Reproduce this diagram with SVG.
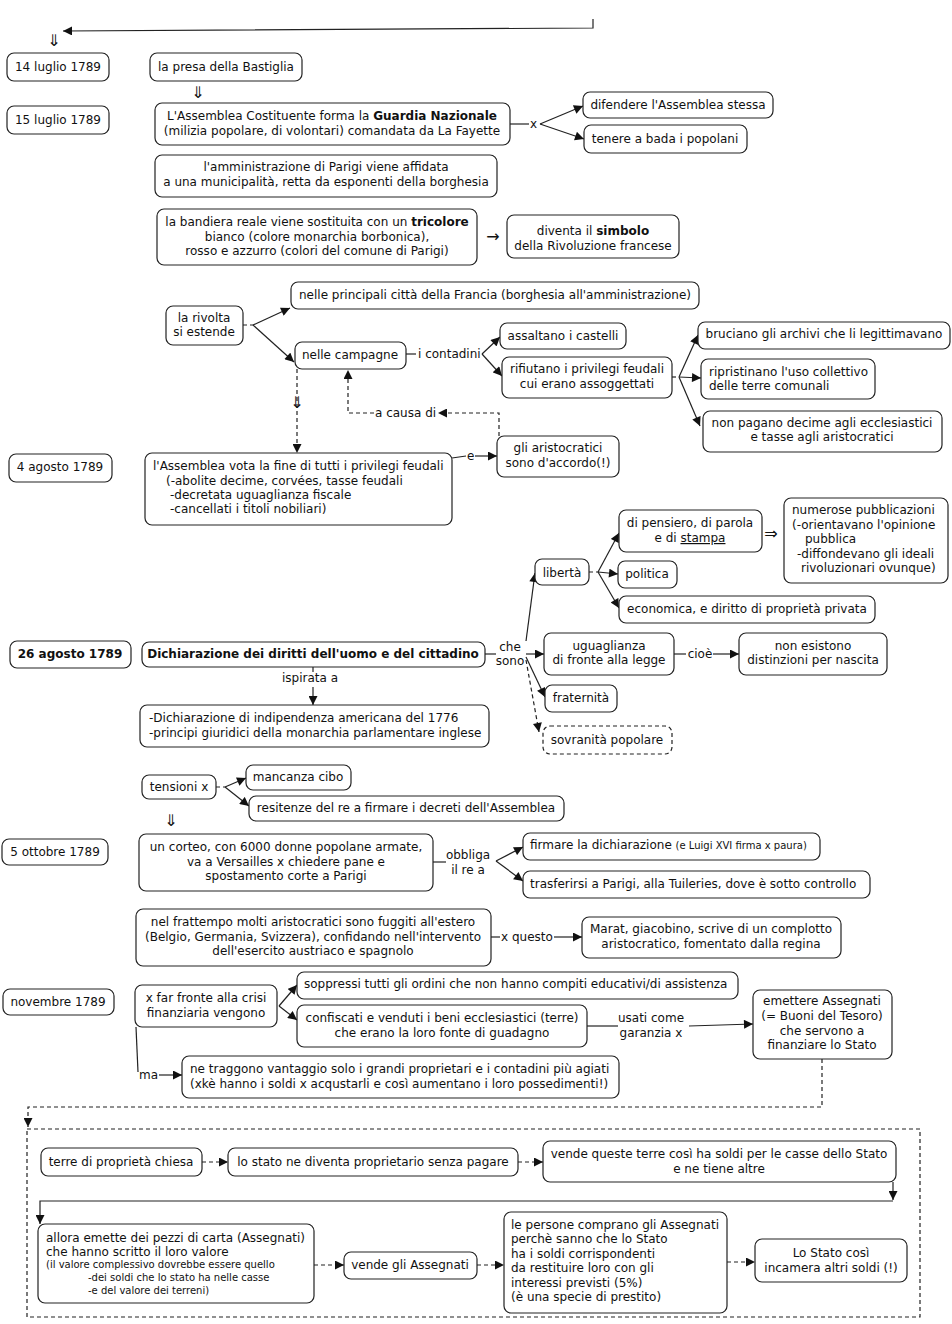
<svg xmlns="http://www.w3.org/2000/svg" width="952" height="1324" viewBox="0 0 952 1324">
<defs>
<marker id="ah" viewBox="0 0 10 10" refX="10" refY="5" markerWidth="10" markerHeight="9" markerUnits="userSpaceOnUse" orient="auto"><path d="M0,0 L10,5 L0,10 z" fill="#111"/></marker>
</defs>
<style>
rect{fill:#fff;stroke:#222;stroke-width:1.2}
rect.d{stroke-dasharray:4 3}
rect.frame{fill:none;stroke-dasharray:4 3}
text{font-family:"DejaVu Sans",Verdana,sans-serif;font-size:12px;fill:#111}
.m{text-anchor:middle}
.b{font-weight:bold}
.s{font-size:10px}
.g{font-size:16px;font-family:"DejaVu Sans",sans-serif;fill:#111}
#edges path{fill:none;stroke:#222;stroke-width:1.2}
#edges path.a{marker-end:url(#ah)}
#edges path.d{stroke-dasharray:4 3}
</style>
<rect class="frame" x="27" y="1129" width="893" height="188"/>
<g id="edges">
<path class="a" d="M593,19 L593,28 L63,31"/>
<text class="m g" x="54" y="46">⇓</text>
<text class="m g" x="198" y="98">⇓</text>
<text class="m g" x="171" y="826">⇓</text>
<path d="M510,124 H529"/>
<text x="530" y="128">x</text>
<path class="a" d="M540,124 L583,106"/>
<path class="a" d="M540,124 L584,139"/>
<text class="m g" x="493" y="242">→</text>
<path class="d" d="M243,325 H253"/>
<path class="a" d="M253,325 L290,308"/>
<path class="a" d="M253,325 L294,362"/>
<path d="M406,354 H416"/>
<text x="418" y="358">i contadini</text>
<path class="a" d="M482,354 L500,337"/>
<path class="a" d="M482,354 L502,376"/>
<path class="d" d="M672,377 H679"/>
<path class="a" d="M679,377 L698,335"/>
<path class="a" d="M679,377 L701,378"/>
<path class="a" d="M679,377 L700,426"/>
<path class="a d" d="M297,369 V453"/>
<text class="m g" x="297" y="408">⇓</text>
<path class="a d" d="M499,436 V413 H438"/>
<text x="375" y="417">a causa di</text>
<path class="a d" d="M374,413 H348 V370"/>
<path d="M452,458 L466,456"/>
<text x="467" y="460">e</text>
<path class="a" d="M475,456 H497"/>
<path class="d" d="M589,572 H598"/>
<path class="a" d="M598,572 L619,533"/>
<path class="a" d="M598,572 L618,574"/>
<path class="a" d="M598,572 L619,608"/>
<text class="m g" x="771" y="539">⇒</text>
<path d="M485,654 H496"/>
<text class="m" x="510" y="651">che</text>
<text class="m" x="510" y="665">sono</text>
<path class="a" d="M526,641 L535,573"/>
<path class="a" d="M526,654 H544"/>
<path class="a" d="M526,657 L545,697"/>
<path class="a d" d="M526,660 L539,732"/>
<path d="M674,654 H686"/>
<text class="m" x="700" y="658">cioè</text>
<path class="a" d="M713,654 H739"/>
<path d="M313,667 V672"/>
<text class="m" x="310" y="682">ispirata a</text>
<path class="a" d="M313,687 V705"/>
<path class="d" d="M216,787 H225"/>
<path class="a" d="M225,787 L246,778"/>
<path class="a" d="M225,787 L249,806"/>
<path d="M433,862 H446"/>
<text class="m" x="468" y="859">obbliga</text>
<text class="m" x="468" y="874">il re a</text>
<path class="a" d="M496,861 L523,847"/>
<path class="a" d="M496,861 L523,881"/>
<path d="M491,937 H500"/>
<text x="501" y="941">x questo</text>
<path class="a" d="M554,937 H582"/>
<path class="a" d="M279,1006 L297,985"/>
<path class="a" d="M279,1006 L297,1020"/>
<path d="M587,1026 H618"/>
<text class="m" x="651" y="1022">usati come</text>
<text class="m" x="651" y="1037">garanzia x</text>
<path class="a" d="M689,1026 L753,1024"/>
<path d="M136,1027 L138,1072"/>
<text x="139" y="1079">ma</text>
<path class="a" d="M159,1075 H182"/>
<path class="a d" d="M822,1059 V1107 H28 V1127"/>
<path class="a d" d="M202,1162 H228"/>
<path class="a d" d="M518,1162 H543"/>
<path class="a" d="M893,1182 V1200"/>
<path class="a" d="M893,1201 H40 V1224"/>
<path class="a d" d="M314,1265 H344"/>
<path class="a d" d="M477,1265 H504"/>
<path class="a d" d="M727,1262 H755"/>
</g>
<g id="n1"><rect x="7" y="53" width="102" height="28" rx="7"/><text class="m" x="58" y="71">14 luglio 1789</text></g>
<g id="n2"><rect x="150" y="53" width="152" height="28" rx="7"/><text class="m" x="226" y="71">la presa della Bastiglia</text></g>
<g id="n3"><rect x="7" y="106" width="102" height="28" rx="7"/><text class="m" x="58" y="124">15 luglio 1789</text></g>
<g id="n4"><rect x="155" y="103" width="355" height="42" rx="7"/><text class="m" x="332" y="120">L'Assemblea Costituente forma la <tspan class="b">Guardia Nazionale</tspan></text><text class="m" x="332" y="135">(milizia popolare, di volontari) comandata da La Fayette</text></g>
<g id="n5"><rect x="155" y="155" width="342" height="42" rx="7"/><text class="m" x="326" y="171">l'amministrazione di Parigi viene affidata</text><text class="m" x="326" y="186">a una municipalità, retta da esponenti della borghesia</text></g>
<g id="n6"><rect x="157" y="209" width="320" height="56" rx="7"/><text class="m" x="317" y="226">la bandiera reale viene sostituita con un <tspan class="b">tricolore</tspan></text><text class="m" x="317" y="241">bianco (colore monarchia borbonica),</text><text class="m" x="317" y="255">rosso e azzurro (colori del comune di Parigi)</text></g>
<g id="n7"><rect x="507" y="215" width="172" height="43" rx="7"/><text class="m" x="593" y="235">diventa il <tspan class="b">simbolo</tspan></text><text class="m" x="593" y="250">della Rivoluzione francese</text></g>
<g id="n8"><rect x="583" y="92" width="190" height="26" rx="7"/><text class="m" x="678" y="109">difendere l'Assemblea stessa</text></g>
<g id="n9"><rect x="584" y="125" width="163" height="28" rx="7"/><text class="m" x="665" y="143">tenere a bada i popolani</text></g>
<g id="n10"><rect x="291" y="282" width="408" height="27" rx="7"/><text class="m" x="495" y="299">nelle principali città della Francia (borghesia all'amministrazione)</text></g>
<g id="n11"><rect x="166" y="306" width="77" height="39" rx="7"/><text class="m" x="204" y="322">la rivolta</text><text class="m" x="204" y="336">si estende</text></g>
<g id="n12"><rect x="295" y="342" width="111" height="27" rx="7"/><text class="m" x="350" y="359">nelle campagne</text></g>
<g id="n13"><rect x="500" y="323" width="126" height="26" rx="7"/><text class="m" x="563" y="340">assaltano i castelli</text></g>
<g id="n14"><rect x="502" y="357" width="170" height="41" rx="7"/><text class="m" x="587" y="373">rifiutano i privilegi feudali</text><text class="m" x="587" y="388">cui erano assoggettati</text></g>
<g id="n15"><rect x="698" y="322" width="252" height="27" rx="7"/><text class="m" x="824" y="338">bruciano gli archivi che li legittimavano</text></g>
<g id="n16"><rect x="701" y="359" width="174" height="40" rx="7"/><text x="709" y="376">ripristinano l'uso collettivo</text><text x="709" y="390">delle terre comunali</text></g>
<g id="n17"><rect x="703" y="411" width="239" height="41" rx="7"/><text class="m" x="822" y="427">non pagano decime agli ecclesiastici</text><text class="m" x="822" y="441">e tasse agli aristocratici</text></g>
<g id="n18"><rect x="9" y="454" width="103" height="28" rx="7"/><text class="m" x="60" y="471">4 agosto 1789</text></g>
<g id="n19"><rect x="145" y="453" width="307" height="72" rx="7"/><text x="153" y="470">l'Assemblea vota la fine di tutti i privilegi feudali</text><text x="166" y="485">(-abolite decime, corvées, tasse feudali</text><text x="170" y="499">-decretata uguaglianza fiscale</text><text x="170" y="513">-cancellati i titoli nobiliari)</text></g>
<g id="n20"><rect x="497" y="436" width="122" height="41" rx="7"/><text class="m" x="558" y="452">gli aristocratici</text><text class="m" x="558" y="467">sono d'accordo(!)</text></g>
<g id="n21"><rect x="619" y="510" width="143" height="42" rx="7"/><text class="m" x="690" y="527">di pensiero, di parola</text><text class="m" x="690" y="542">e di <tspan text-decoration="underline">stampa</tspan></text></g>
<g id="n22"><rect x="784" y="498" width="164" height="85" rx="7"/><text x="792" y="514">numerose pubblicazioni</text><text x="792" y="529">(-orientavano l'opinione</text><text x="805" y="543">pubblica</text><text x="797" y="558">-diffondevano gli ideali</text><text x="801" y="572">rivoluzionari ovunque)</text></g>
<g id="n23"><rect x="535" y="559" width="54" height="26" rx="7"/><text class="m" x="562" y="577">libertà</text></g>
<g id="n24"><rect x="618" y="561" width="59" height="27" rx="7"/><text class="m" x="647" y="578">politica</text></g>
<g id="n25"><rect x="619" y="596" width="256" height="27" rx="7"/><text class="m" x="747" y="613">economica, e diritto di proprietà privata</text></g>
<g id="n26"><rect x="10" y="641" width="121" height="27" rx="7"/><text class="m b" x="70" y="658">26 agosto 1789</text></g>
<g id="n27"><rect x="142" y="642" width="343" height="25" rx="7"/><text class="m b" x="313" y="658">Dichiarazione dei diritti dell'uomo e del cittadino</text></g>
<g id="n28"><rect x="544" y="633" width="130" height="42" rx="7"/><text class="m" x="609" y="650">uguaglianza</text><text class="m" x="609" y="664">di fronte alla legge</text></g>
<g id="n29"><rect x="739" y="633" width="148" height="42" rx="7"/><text class="m" x="813" y="650">non esistono</text><text class="m" x="813" y="664">distinzioni per nascita</text></g>
<g id="n30"><rect x="545" y="685" width="72" height="27" rx="7"/><text class="m" x="581" y="702">fraternità</text></g>
<g id="n31"><rect class="d" x="543" y="726" width="129" height="28" rx="7"/><text class="m" x="607" y="744">sovranità popolare</text></g>
<g id="n32"><rect x="140" y="705" width="349" height="42" rx="7"/><text x="149" y="722">-Dichiarazione di indipendenza americana del 1776</text><text x="149" y="737">-principi giuridici della monarchia parlamentare inglese</text></g>
<g id="n33"><rect x="142" y="775" width="74" height="24" rx="7"/><text class="m" x="179" y="791">tensioni x</text></g>
<g id="n34"><rect x="246" y="765" width="105" height="25" rx="7"/><text class="m" x="298" y="781">mancanza cibo</text></g>
<g id="n35"><rect x="249" y="796" width="315" height="25" rx="7"/><text class="m" x="406" y="812">resitenze del re a firmare i decreti dell'Assemblea</text></g>
<g id="n36"><rect x="2" y="839" width="106" height="26" rx="7"/><text class="m" x="55" y="856">5 ottobre 1789</text></g>
<g id="n37"><rect x="139" y="834" width="294" height="57" rx="7"/><text class="m" x="286" y="851">un corteo, con 6000 donne popolane armate,</text><text class="m" x="286" y="866">va a Versailles x chiedere pane e</text><text class="m" x="286" y="880">spostamento corte a Parigi</text></g>
<g id="n38"><rect x="523" y="833" width="297" height="27" rx="7"/><text x="530" y="849">firmare la dichiarazione <tspan class="s">(e Luigi XVI firma x paura)</tspan></text></g>
<g id="n39"><rect x="523" y="871" width="347" height="27" rx="7"/><text x="530" y="888">trasferirsi a Parigi, alla Tuileries, dove è sotto controllo</text></g>
<g id="n40"><rect x="136" y="909" width="355" height="57" rx="7"/><text class="m" x="313" y="926">nel frattempo molti aristocratici sono fuggiti all'estero</text><text class="m" x="313" y="941">(Belgio, Germania, Svizzera), confidando nell'intervento</text><text class="m" x="313" y="955">dell'esercito austriaco e spagnolo</text></g>
<g id="n41"><rect x="582" y="917" width="259" height="41" rx="7"/><text class="m" x="711" y="933">Marat, giacobino, scrive di un complotto</text><text class="m" x="711" y="948">aristocratico, fomentato dalla regina</text></g>
<g id="n42"><rect x="3" y="989" width="111" height="26" rx="7"/><text class="m" x="58" y="1006">novembre 1789</text></g>
<g id="n43"><rect x="135" y="985" width="142" height="42" rx="7"/><text class="m" x="206" y="1002">x far fronte alla crisi</text><text class="m" x="206" y="1017">finanziaria vengono</text></g>
<g id="n44"><rect x="297" y="972" width="441" height="27" rx="7"/><text x="304" y="988">soppressi tutti gli ordini che non hanno compiti educativi/di assistenza</text></g>
<g id="n45"><rect x="297" y="1005" width="290" height="42" rx="7"/><text class="m" x="442" y="1022">confiscati e venduti i beni ecclesiastici (terre)</text><text class="m" x="442" y="1037">che erano la loro fonte di guadagno</text></g>
<g id="n46"><rect x="753" y="990" width="139" height="69" rx="7"/><text class="m" x="822" y="1005">emettere Assegnati</text><text class="m" x="822" y="1020">(= Buoni del Tesoro)</text><text class="m" x="822" y="1035">che servono a</text><text class="m" x="822" y="1049">finanziare lo Stato</text></g>
<g id="n47"><rect x="182" y="1056" width="437" height="42" rx="7"/><text x="190" y="1073">ne traggono vantaggio solo i grandi proprietari e i contadini più agiati</text><text x="190" y="1088">(xkè hanno i soldi x acqustarli e così aumentano i loro possedimenti!)</text></g>
<g id="n48"><rect x="41" y="1148" width="161" height="28" rx="7"/><text class="m" x="121" y="1166">terre di proprietà chiesa</text></g>
<g id="n49"><rect x="228" y="1148" width="290" height="28" rx="7"/><text class="m" x="373" y="1166">lo stato ne diventa proprietario senza pagare</text></g>
<g id="n50"><rect x="543" y="1141" width="353" height="41" rx="7"/><text class="m" x="719" y="1158">vende queste terre così ha soldi per le casse dello Stato</text><text class="m" x="719" y="1173">e ne tiene altre</text></g>
<g id="n51"><rect x="38" y="1224" width="276" height="79" rx="7"/><text x="46" y="1242">allora emette dei pezzi di carta (Assegnati)</text><text x="46" y="1256">che hanno scritto il loro valore</text><text class="s" x="46" y="1268">(il valore complessivo dovrebbe essere quello</text><text class="s" x="88" y="1281">-dei soldi che lo stato ha nelle casse</text><text class="s" x="88" y="1294">-e del valore dei terreni)</text></g>
<g id="n52"><rect x="344" y="1252" width="133" height="27" rx="7"/><text class="m" x="410" y="1269">vende gli Assegnati</text></g>
<g id="n53"><rect x="504" y="1212" width="223" height="101" rx="7"/><text x="511" y="1229">le persone comprano gli Assegnati</text><text x="511" y="1243">perchè sanno che lo Stato</text><text x="511" y="1258">ha i soldi corrispondenti</text><text x="511" y="1272">da restituire loro con gli</text><text x="511" y="1287">interessi previsti (5%)</text><text x="511" y="1301">(è una specie di prestito)</text></g>
<g id="n54"><rect x="755" y="1239" width="152" height="43" rx="7"/><text class="m" x="831" y="1257">Lo Stato così</text><text class="m" x="831" y="1272">incamera altri soldi (!)</text></g>
</svg>
